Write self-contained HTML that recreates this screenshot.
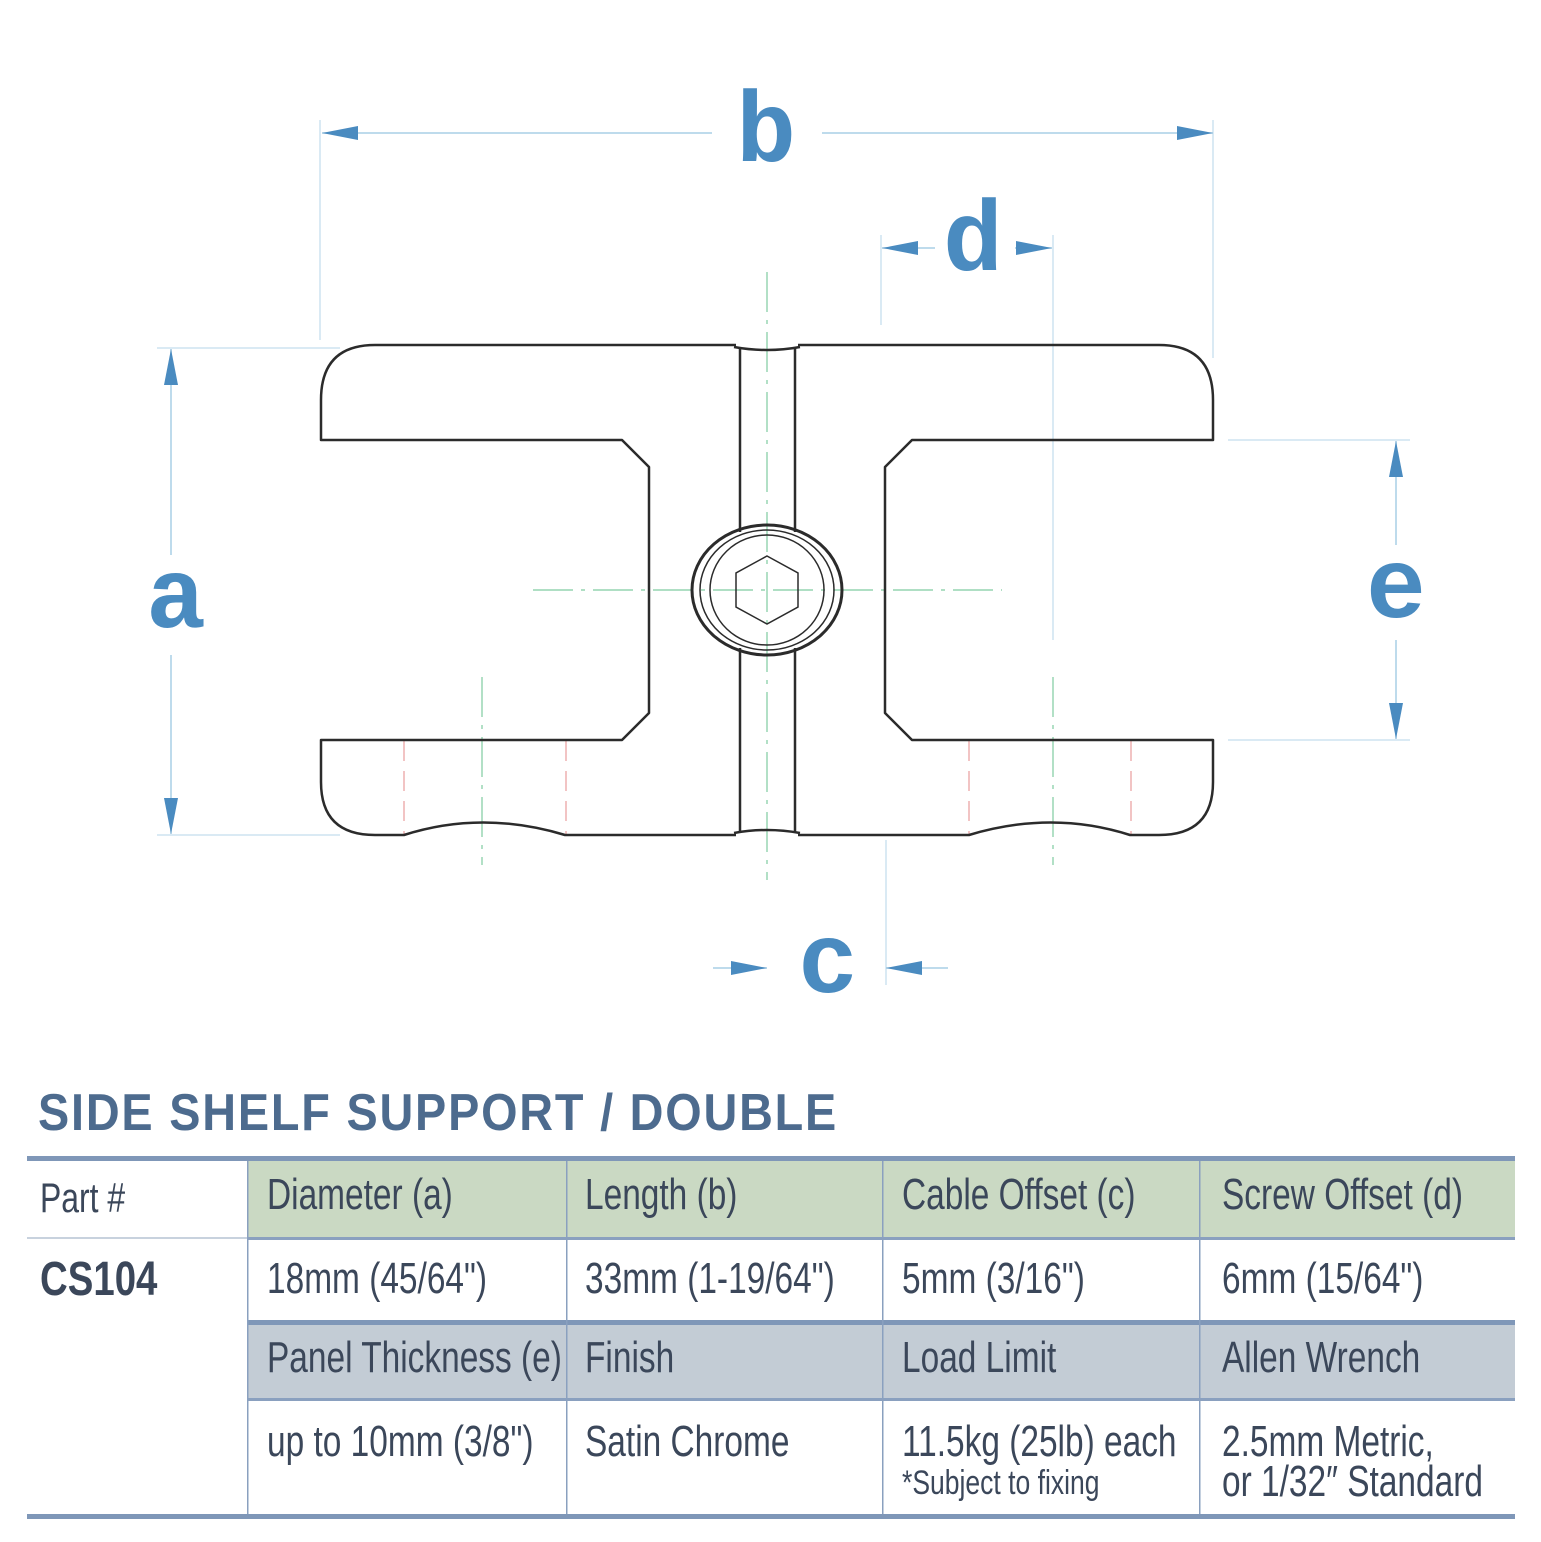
<!DOCTYPE html>
<html><head><meta charset="utf-8"><style>
html,body{margin:0;padding:0;background:#fff}
body{width:1541px;height:1542px;position:relative;overflow:hidden}
.t{position:absolute;font-family:"Liberation Sans",sans-serif;color:#3b475a;font-size:44px;white-space:nowrap;transform-origin:0 0;transform:scaleX(0.76)}
</style></head><body>
<svg width="1541" height="1542" style="position:absolute;left:0;top:0">
<defs>
<marker id="ar" markerWidth="36" markerHeight="14" refX="36" refY="7" orient="auto" markerUnits="userSpaceOnUse"><path d="M0,0 L36,7 L0,14 z" fill="#4a8bc0"/></marker>
</defs>
<g stroke="#b6d6ea" stroke-width="1" fill="none">
<line x1="320" y1="120" x2="320" y2="340"/><line x1="1213" y1="120" x2="1213" y2="358"/>
<line x1="881" y1="235" x2="881" y2="325"/><line x1="1053" y1="235" x2="1053" y2="640"/>
<line x1="157" y1="348" x2="340" y2="348"/><line x1="157" y1="835" x2="340" y2="835"/>
<line x1="1228" y1="440" x2="1410" y2="440"/><line x1="1228" y1="740" x2="1410" y2="740"/>
<line x1="886" y1="840" x2="886" y2="985"/>
</g>
<g stroke="#a9cfe6" stroke-width="1.5" fill="none">
<line x1="822" y1="133" x2="1213" y2="133" marker-end="url(#ar)"/>
<line x1="712" y1="133" x2="322" y2="133" marker-end="url(#ar)"/>
<line x1="935" y1="248" x2="882" y2="248" marker-end="url(#ar)"/>
<line x1="1015" y1="248" x2="1052" y2="248" marker-end="url(#ar)"/>
<line x1="171" y1="555" x2="171" y2="349" marker-end="url(#ar)"/>
<line x1="171" y1="655" x2="171" y2="834" marker-end="url(#ar)"/>
<line x1="1396" y1="545" x2="1396" y2="441" marker-end="url(#ar)"/>
<line x1="1396" y1="640" x2="1396" y2="739" marker-end="url(#ar)"/>
<line x1="713" y1="968" x2="767" y2="968" marker-end="url(#ar)"/>
<line x1="948" y1="968" x2="886" y2="968" marker-end="url(#ar)"/>
</g>
<g style="font-family:'Liberation Mono','DejaVu Sans Mono',monospace;font-weight:bold" fill="#4a8bc0" font-size="100" text-anchor="middle">
<text x="766" y="161">b</text><text x="973" y="270">d</text>
<text x="176" y="627">a</text><text x="1396" y="617">e</text>
<text x="828" y="992">c</text>
</g>
<g stroke="#7fcca0" stroke-width="1.2" fill="none" stroke-dasharray="40,8,4,8">
<line x1="533" y1="590" x2="1002" y2="590"/>
<line x1="767" y1="272" x2="767" y2="880"/>
<line x1="482" y1="677" x2="482" y2="865"/>
<line x1="1053" y1="677" x2="1053" y2="865"/>
</g>
<g stroke="#e58a8a" stroke-width="1" fill="none" stroke-dasharray="20,10">
<line x1="404" y1="741" x2="404" y2="835"/><line x1="566" y1="741" x2="566" y2="835"/>
<line x1="969" y1="741" x2="969" y2="835"/><line x1="1131" y1="741" x2="1131" y2="835"/>
</g>
<g stroke="#2b2b2b" stroke-width="2.5" fill="none" stroke-linejoin="round">
<path d="M736,345 L375,345 Q321,345 321,400 L321,440 L622,440 L649,467 L649,713 L622,740 L321,740 L321,782 Q321,835 375,835 L404,835 Q482,810 565,835 L736,835"/>
<path d="M798,345 L1159,345 Q1213,345 1213,400 L1213,440 L912,440 L885,467 L885,713 L912,740 L1213,740 L1213,782 Q1213,835 1159,835 L1130,835 Q1052,810 969,835 L798,835"/>
<path d="M734,347 Q767,353 800,347 M734,833 Q767,827 800,833"/>
<line x1="740" y1="347" x2="740" y2="532"/><line x1="795" y1="347" x2="795" y2="532"/>
<line x1="740" y1="648" x2="740" y2="833"/><line x1="795" y1="648" x2="795" y2="833"/>
<ellipse cx="767" cy="590" rx="75" ry="65" stroke-width="3"/>
</g>
<g stroke="#2b2b2b" stroke-width="1.5" fill="none">
<ellipse cx="767" cy="590" rx="67" ry="60"/>
<ellipse cx="767" cy="590" rx="57" ry="55"/>
<polygon points="767,556 798,573 798,607 767,624 736,607 736,573"/>
</g>
<rect x="248" y="1161" width="1267" height="77" fill="#cad9c3"/>
<rect x="248" y="1325" width="1267" height="74" fill="#c3ccd5"/>
<rect x="27" y="1156" width="1488" height="5" fill="#7f97b8"/>
<rect x="27" y="1237" width="221" height="2" fill="#c8d2de"/>
<rect x="248" y="1237" width="1267" height="3" fill="#8aa0bf"/>
<rect x="248" y="1320" width="1267" height="5" fill="#7f97b8"/>
<rect x="248" y="1398" width="1267" height="3" fill="#8aa0bf"/>
<rect x="27" y="1514" width="1488" height="5" fill="#7f97b8"/>
<g fill="#8aa0bf"><rect x="247" y="1161" width="1.5" height="353"/><rect x="566" y="1161" width="1.5" height="353"/><rect x="882" y="1161" width="1.5" height="353"/><rect x="1199" y="1161" width="1.5" height="353"/></g>
</svg>
<div class="t" style="left:38px;top:1083px;font-size:52px;color:#4d6b8e;font-weight:bold;letter-spacing:2px;transform:scaleX(0.9)">SIDE SHELF SUPPORT / DOUBLE</div>
<div class="t" style="left:40px;top:1174px;font-size:42px">Part #</div>
<div class="t" style="left:40px;top:1252px;font-size:48px;font-weight:bold;transform:scaleX(0.8)">CS104</div>
<div class="t" style="left:267px;top:1170px">Diameter (a)</div>
<div class="t" style="left:585px;top:1170px">Length (b)</div>
<div class="t" style="left:902px;top:1170px">Cable Offset (c)</div>
<div class="t" style="left:1222px;top:1170px">Screw Offset (d)</div>
<div class="t" style="left:267px;top:1254px">18mm (45/64")</div>
<div class="t" style="left:585px;top:1254px">33mm (1-19/64")</div>
<div class="t" style="left:902px;top:1254px">5mm (3/16")</div>
<div class="t" style="left:1222px;top:1254px">6mm (15/64")</div>
<div class="t" style="left:267px;top:1333px">Panel Thickness (e)</div>
<div class="t" style="left:585px;top:1333px">Finish</div>
<div class="t" style="left:902px;top:1333px">Load Limit</div>
<div class="t" style="left:1222px;top:1333px">Allen Wrench</div>
<div class="t" style="left:267px;top:1417px">up to 10mm (3/8")</div>
<div class="t" style="left:585px;top:1417px">Satin Chrome</div>
<div class="t" style="left:902px;top:1417px">11.5kg (25lb) each</div>
<div class="t" style="left:902px;top:1464px;font-size:34px;transform:scaleX(0.78)">*Subject to fixing</div>
<div class="t" style="left:1222px;top:1417px">2.5mm Metric,</div>
<div class="t" style="left:1222px;top:1457px">or 1/32″ Standard</div>
</body></html>
